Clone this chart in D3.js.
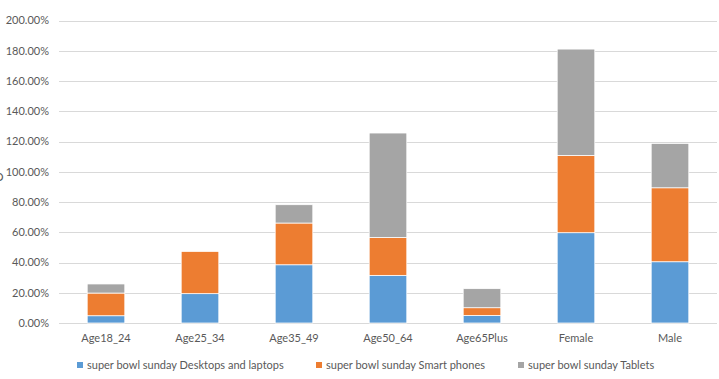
<!DOCTYPE html>
<html>
<head>
<meta charset="utf-8">
<script src="https://cdn.jsdelivr.net/npm/d3@7"></script>
<style>
  body { margin: 0; background: #fff; }
  text { font-family: Lato, "Open Sans", sans-serif; fill: #595959; }
</style>
</head>
<body>
<div id="chart"></div>
<script>
const categories = ["Age18_24", "Age25_34", "Age35_49", "Age50_64", "Age65Plus", "Female", "Male"];
const seriesNames = ["super bowl sunday Desktops and laptops", "super bowl sunday Smart phones", "super bowl sunday Tablets"];
const desktops = [0.048, 0.194, 0.385, 0.315, 0.050, 0.597, 0.405];
const phones   = [0.150, 0.279, 0.276, 0.251, 0.051, 0.511, 0.489];
const tablets  = [0.060, 0.000, 0.121, 0.690, 0.126, 0.703, 0.293];
const yTicks = [0, 0.2, 0.4, 0.6, 0.8, 1.0, 1.2, 1.4, 1.6, 1.8, 2.0];
const colors = ["#5B9BD5", "#ED7D31", "#A5A5A5"];

function drawChart() {
    const width = 719, height = 379;
    const margin = { left: 59, right: 2, top: 20.5, bottom: 56 };
    const svg = d3.select("#chart").append("svg").attr("width", width).attr("height", height);

    const x = d3.scaleBand().domain(categories).range([margin.left, width - margin.right]).paddingInner(0.6).paddingOuter(0.3);
    const y = d3.scaleLinear().domain([0, 2]).range([height - margin.bottom, margin.top]);

    // gridlines
    svg.append("g")
        .selectAll("line")
        .data(yTicks)
        .enter().append("line")
        .attr("x1", margin.left).attr("x2", width - margin.right)
        .attr("y1", d => Math.round(y(d)) + 0.5).attr("y2", d => Math.round(y(d)) + 0.5)
        .attr("stroke", "#d9d9d9").attr("stroke-width", 1);

    // y labels
    svg.append("g")
        .selectAll("text")
        .data(yTicks)
        .enter().append("text")
        .attr("x", 49).attr("y", d => y(d))
        .attr("dy", "0.35em")
        .attr("text-anchor", "end")
        .style("font-size", "11px")
        .text(d => d3.format(".2%")(d));

    const rows = categories.map((c, i) => ({ cat: c, s0: desktops[i], s1: phones[i], s2: tablets[i] }));
    const stack = d3.stack().keys(["s0", "s1", "s2"])(rows);

    svg.append("g")
        .selectAll("g")
        .data(stack)
        .enter().append("g")
        .attr("fill", (d, i) => colors[i])
        .selectAll("rect")
        .data(d => d)
        .enter().append("rect")
        .attr("x", d => x(d.data.cat))
        .attr("width", x.bandwidth())
        .attr("y", d => y(d[1]))
        .attr("height", d => y(d[0]) - y(d[1]))
        .attr("stroke", "#fff").attr("stroke-width", 0.75);

    // x labels
    svg.append("g")
        .selectAll("text")
        .data(categories)
        .enter().append("text")
        .attr("x", d => x(d) + x.bandwidth() / 2)
        .attr("y", 338)
        .attr("dy", "0.35em")
        .attr("text-anchor", "middle")
        .style("font-size", "11px")
        .text(d => d);

    // clipped axis title fragment at left edge
    svg.append("text").attr("x", -6).attr("y", 181).style("font-size", "12px").text("O");

    // legend
    const legendX = [77, 316, 518];
    const legend = svg.append("g")
        .selectAll("g")
        .data(seriesNames)
        .enter().append("g")
        .attr("transform", (d, i) => `translate(${legendX[i]},365)`);
    legend.append("rect").attr("x", 0).attr("y", -3).attr("width", 6).attr("height", 6).attr("fill", (d, i) => colors[i]);
    legend.append("text").attr("x", 10).attr("y", 0).attr("dy", "0.35em").style("font-size", "11px").text(d => d);
}

drawChart();
</script>
</body>
</html>
